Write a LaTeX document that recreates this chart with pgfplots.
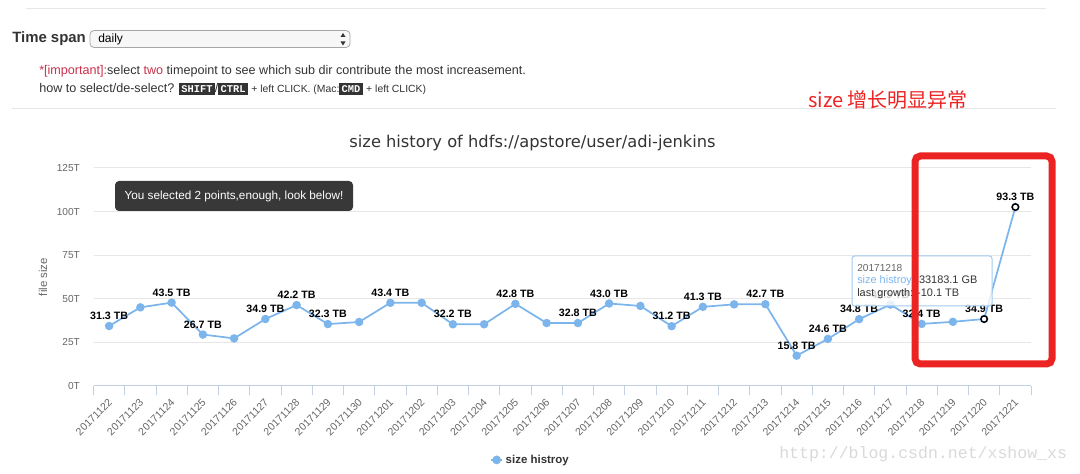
\documentclass[border=0pt]{standalone}
\usepackage{pgfplots}
\pgfplotsset{compat=1.18}
\usepackage{pgfplotstable}
\usepackage{fontspec}
\setmainfont{Liberation Sans}
\newfontfamily\dejavu{DejaVu Sans}
\newfontfamily\cjk{Noto Sans CJK SC}
\newfontfamily\mono{Liberation Mono}
\definecolor{hcblue}{HTML}{7CB5EC}
\definecolor{hcaxis}{HTML}{C0D0E0}
\definecolor{hcgrid}{HTML}{E6E6E6}
\definecolor{hctext}{HTML}{333333}
\definecolor{hclab}{HTML}{666666}
\definecolor{annred}{HTML}{EC2323}
\definecolor{impred}{HTML}{C9304A}
\definecolor{kbdbg}{HTML}{333333}
\definecolor{wmark}{HTML}{D9D9D9}
\definecolor{sepline}{HTML}{E6E6E6}
\newcommand\kbd[1]{{\setlength\fboxsep{1.7pt}\colorbox{kbdbg}{\textcolor{white}{\mono\bfseries\fontsize{7.8pt}{8pt}\selectfont #1}}}}

\pgfplotstableread{
x y
0 34.4
1 45.1
2 47.8
3 29.5
4 27.3
5 38.4
6 46.4
7 35.5
8 36.7
9 47.7
10 47.7
11 35.4
12 35.4
13 47.1
14 36.1
15 36.1
16 47.3
17 45.9
18 34.3
19 45.4
20 46.8
21 46.9
22 17.4
23 27.0
24 38.3
25 46.7
26 35.6
27 36.8
28 38.4
29 102.6
}\sizetab

\pgfplotstableread{
x y lab
0 34.4 31.3
2 47.8 43.5
3 29.5 26.7
5 38.4 34.9
6 46.4 42.2
7 35.5 32.3
9 47.7 43.4
11 35.4 32.2
13 47.1 42.8
15 36.1 32.8
16 47.3 43.0
18 34.3 31.2
19 45.4 41.3
21 46.9 42.7
22 17.4 15.8
23 27.0 24.6
24 38.3 34.8
25 46.7 42.5
26 35.6 32.4
28 38.4 34.9
29 102.6 93.3
}\labtab

\begin{document}
\begin{tikzpicture}
\path[use as bounding box] (0pt,0pt) rectangle (810pt,355.5pt);
\begin{axis}[
  at={(70.125pt,66pt)}, anchor=south west,
  scale only axis, width=703.125pt, height=163.5pt,
  xmin=-0.5, xmax=29.5, ymin=0, ymax=125,
  clip=false,
  axis x line*=bottom, axis y line*=left,
  x axis line style={draw=hcaxis, line width=0.75pt, -},
  y axis line style={draw=none},
  ytick={0,25,50,75,100,125},
  yticklabels={0T,25T,50T,75T,100T,125T},
  ymajorgrids, grid style={draw=hcgrid, line width=0.75pt},
  major tick length=0pt,
  minor xtick={-0.5,0.5,...,29.5},
  minor tick length=7pt,
  tick align=outside,
  minor x tick style={draw=hcaxis, line width=0.75pt},
  xtick={0,...,29},
  xticklabels={20171122,20171123,20171124,20171125,20171126,20171127,20171128,20171129,20171130,20171201,20171202,20171203,20171204,20171205,20171206,20171207,20171208,20171209,20171210,20171211,20171212,20171213,20171214,20171215,20171216,20171217,20171218,20171219,20171220,20171221},
  xticklabel style={xshift=1pt, yshift=-11pt, rotate=45, anchor=east, inner sep=0pt, font=\fontsize{7.9pt}{9pt}\selectfont, text=hclab},
  yticklabel style={font=\fontsize{7.6pt}{9pt}\selectfont, text=hclab, inner sep=0pt, xshift=-10pt, anchor=east},
  legend style={at={(0.423,-0.339)}, anchor=west, draw=none, fill=none, inner sep=0pt,
     font=\bfseries\fontsize{8.6pt}{10pt}\selectfont, text=hctext},
  legend image code/.code={\draw[hcblue, line width=1.3pt] (0pt,0pt) -- (8.25pt,0pt);
     \fill[hcblue] (4.1pt,0pt) circle (2.6pt);},
]
\addplot[hcblue, line width=1.3pt, mark=*, mark size=2.5pt, mark options={fill=hcblue, draw=hcblue}] table[x=x,y=y] {\sizetab};
\addlegendentry{size histroy}
\addplot[forget plot, only marks, mark=none, point meta=explicit symbolic,
  nodes near coords={\pgfplotspointmeta\ TB},
  every node near coord/.style={font=\bfseries\fontsize{8pt}{9pt}\selectfont, text=black, inner sep=0pt, anchor=south, yshift=4.5pt}]
  table[x=x,y=y,meta=lab] {\labtab};
\addplot[forget plot, only marks, mark=*, mark size=2.4pt, mark options={fill=white, draw=black, line width=1.1pt}] coordinates {(28,38.4) (29,102.6)};
\end{axis}

\begin{scope}[x=0.75pt, y=-0.75pt, shift={(0pt,355.5pt)}]
% top page UI
\draw[sepline, line width=0.75pt] (26,9) -- (1046,9);
\draw[sepline, line width=0.75pt] (12,109) -- (1056,109);
\node[anchor=west, inner sep=0pt, font=\bfseries\fontsize{11.2pt}{13pt}\selectfont, text=hctext] at (12,39) {Time span};
\draw[draw=black!35, fill=black!3, rounded corners=3pt, line width=0.6pt] (90,30.5) rectangle (350,47.5);
\node[anchor=west, inner sep=0pt, font=\fontsize{9pt}{10pt}\selectfont, text=black] at (98,39.5) {daily};
\fill[hctext] (340.5,37) -- (345.5,37) -- (343,33) -- cycle;
\fill[hctext] (340.5,41.5) -- (345.5,41.5) -- (343,45.5) -- cycle;
\node[anchor=west, inner sep=0pt, font=\fontsize{9.45pt}{11pt}\selectfont, text=hctext] at (39,71)
  {\textcolor{impred}{*[important]:}select \textcolor{impred}{two} timepoint to see which sub dir contribute the most increasement.};
\node[anchor=west, inner sep=0pt, font=\fontsize{9.45pt}{11pt}\selectfont, text=hctext] at (39,89)
  {how to select/de-select? \kbd{SHIFT}/\kbd{CTRL} {\fontsize{7.8pt}{9pt}\selectfont+ left CLICK. (Mac:}\kbd{CMD} {\fontsize{7.8pt}{9pt}\selectfont+ left CLICK)}};
\node[anchor=west, inner sep=0pt, font=\cjk\fontsize{15pt}{17pt}\selectfont, text=annred] at (808,100) {size 增长明显异常};
% chart title and axis title
\node[font=\dejavu\fontsize{12.2pt}{14pt}\selectfont, text=hctext] at (532.5,143) {size history of hdfs://apstore/user/adi-jenkins};
\node[rotate=90, font=\fontsize{8.6pt}{10pt}\selectfont, text=hclab] at (43,277) {file size};
% selection tooltip
\fill[black!78, rounded corners=3pt] (115,181) rectangle (353,211);
\node[font=\fontsize{8.8pt}{10pt}\selectfont, text=white] at (234,196) {You selected 2 points,enough, look below!};
% hover tooltip
\filldraw[fill=white, fill opacity=0.82, draw=hcblue!70, line width=0.75pt, rounded corners=2pt] (852,256) rectangle (992,306);
\node[anchor=west, inner sep=0pt, font=\fontsize{7.6pt}{9pt}\selectfont, text=hclab] at (857,268) {20171218};
\node[anchor=west, inner sep=0pt, font=\fontsize{8.2pt}{9pt}\selectfont, text=hctext] at (857,281) {\textcolor{hcblue}{size histroy}: 33183.1 GB};
\node[anchor=west, inner sep=0pt, font=\fontsize{8.2pt}{9pt}\selectfont, text=hctext] at (857,294) {last growth: -10.1 TB};
% red highlight box
\draw[annred, line width=5.25pt, rounded corners=4pt] (915,156) rectangle (1052,364);
% watermark
\node[anchor=west, inner sep=0pt, font=\mono\fontsize{12.4pt}{14pt}\selectfont, text=wmark] at (779,454) {http://blog.csdn.net/xshow\_xs};
\end{scope}
\end{tikzpicture}
\end{document}
